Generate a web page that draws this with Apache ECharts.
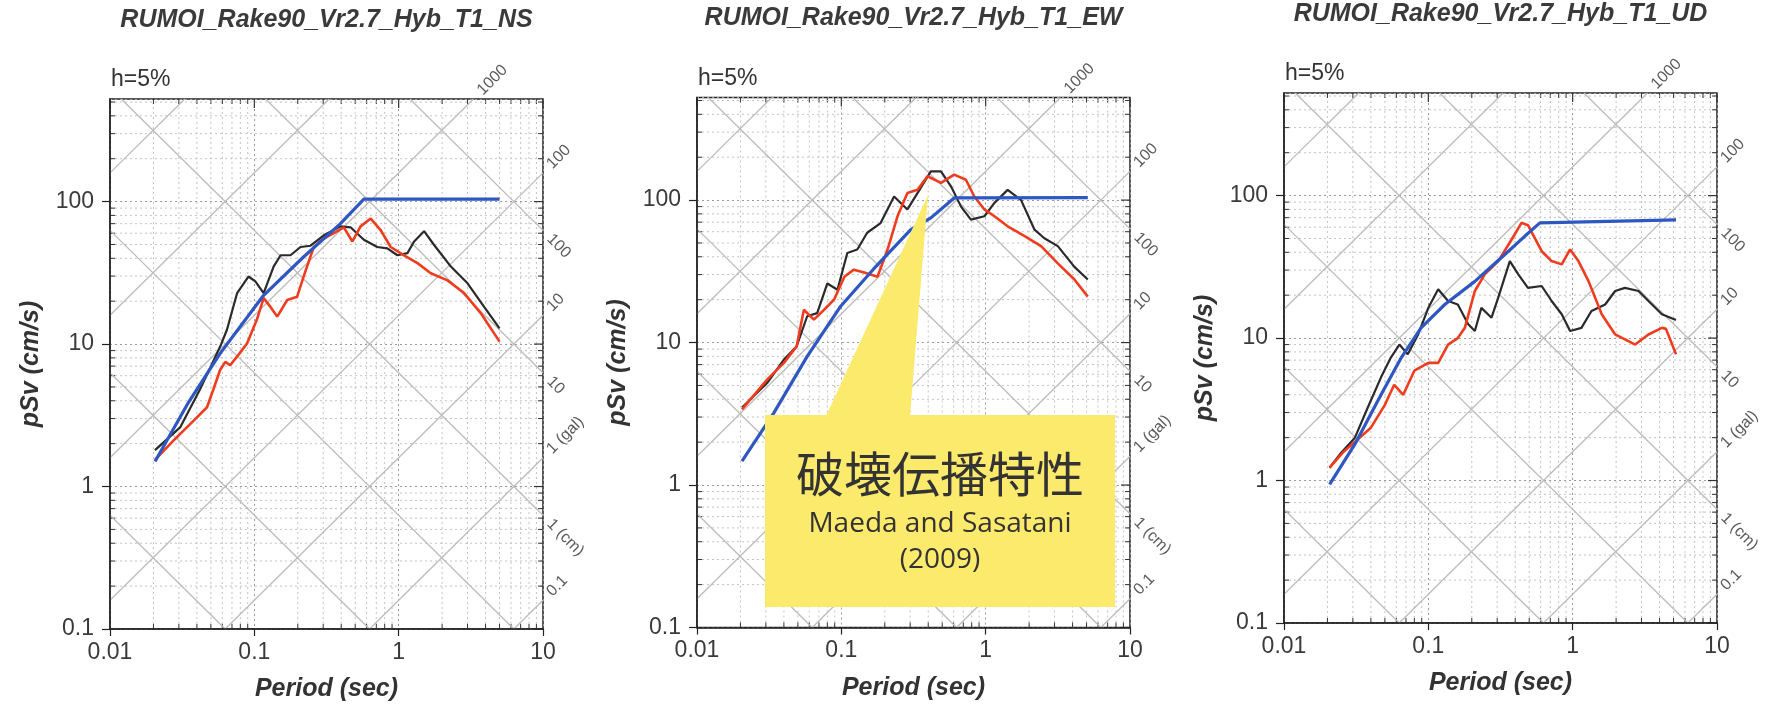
<!DOCTYPE html>
<html><head><meta charset="utf-8">
<script src="https://cdn.jsdelivr.net/npm/echarts@6/dist/echarts.min.js"></script>
<style>html,body{margin:0;padding:0;background:#fff}#c{width:1773px;height:708px}</style>
</head><body><div id="c"></div>
<script>
// ---------- data (period sec, pSv cm/s) ----------
const TITLES = ['RUMOI_Rake90_Vr2.7_Hyb_T1_NS', 'RUMOI_Rake90_Vr2.7_Hyb_T1_EW', 'RUMOI_Rake90_Vr2.7_Hyb_T1_UD'];
const X_TICKS = [0.01, 0.1, 1, 10];
const Y_TICKS = [0.1, 1, 10, 100];
const ACC_LEVELS = [0.1, 1, 10, 100, 1000, 10000, 100000];          // gal
const DISP_LEVELS = [0.001, 0.01, 0.1, 1, 10, 100];                  // cm
const ACC_LABELS = {1000: '1000', 100: '100', 10: '10', 1: '1 (gal)', 0.1: '0.1'};
const DISP_LABELS = {100: '100', 10: '10', 1: '1 (cm)'};

const NS_BLACK = [[0.0205,1.8],[0.0306,2.6],[0.042,4.8],[0.058,9.6],[0.0646,12.6],[0.076,22.8],[0.091,29.8],[0.1016,27.5],[0.116,22.8],[0.136,35],[0.152,42],[0.178,42],[0.209,48],[0.245,49],[0.303,58],[0.395,67],[0.464,66],[0.574,54],[0.711,48],[0.834,47],[0.98,42],[1.15,43.5],[1.28,52.5],[1.5,62],[1.76,49.6],[2.3,35],[3.0,26.7],[3.9,18.3],[5.0,12.9]];
const NS_RED = [[0.0205,1.54],[0.0275,2.1],[0.038,2.9],[0.047,3.6],[0.052,4.8],[0.058,6.6],[0.063,7.5],[0.068,7.1],[0.079,8.6],[0.089,10.1],[0.104,14.8],[0.116,21],[0.129,18.3],[0.144,15.6],[0.169,20.4],[0.198,21.5],[0.22,30],[0.258,48],[0.303,55],[0.355,60],[0.417,66],[0.478,52.5],[0.545,67],[0.64,76],[0.75,63],[0.88,48],[1.09,42],[1.35,37],[1.67,31.4],[2.18,28],[2.84,22.8],[3.7,16.5],[5.0,10.4]];
const NS_BLUE = [[0.0205,1.5],[0.035,3.9],[0.058,8.6],[0.116,22],[0.22,41],[0.395,70],[0.574,104],[5.0,104]];

const EW_BLACK = [[0.0205,3.5],[0.0306,5.2],[0.04,7.6],[0.049,9.4],[0.058,15.3],[0.068,16.1],[0.08,26],[0.094,23.5],[0.11,42.5],[0.129,45],[0.151,59],[0.187,69],[0.232,106],[0.287,86],[0.337,112],[0.417,159],[0.49,159],[0.575,125],[0.675,90],[0.79,73],[0.98,77],[1.15,95.6],[1.42,118],[1.76,100],[2.18,62],[2.55,54],[3.16,47.5],[4.12,34],[5.1,27.7]];
const EW_RED = [[0.0205,3.4],[0.0306,5.5],[0.04,7.2],[0.049,9.4],[0.055,17],[0.0645,14.5],[0.076,17],[0.089,20],[0.105,29],[0.122,32.5],[0.144,31],[0.178,29],[0.209,45],[0.245,77],[0.287,112],[0.337,118],[0.395,147],[0.49,132],[0.605,151],[0.73,139],[0.834,106],[0.98,86],[1.15,77],[1.42,65.5],[1.85,56],[2.42,47.5],[3.16,36],[4.12,27.7],[5.1,21]];
const EW_BLUE = [[0.0205,1.47],[0.034,3.2],[0.058,8.0],[0.099,18],[0.168,33],[0.303,62],[0.417,75],[0.605,103.5],[5.1,104]];

const UD_BLACK = [[0.0207,1.23],[0.0249,1.57],[0.031,2.0],[0.038,3.24],[0.047,5.3],[0.055,7.3],[0.063,9.0],[0.072,7.7],[0.085,10.6],[0.1,16.3],[0.117,22],[0.137,18.2],[0.16,17.2],[0.189,12.5],[0.21,11.2],[0.233,16.3],[0.274,13.9],[0.305,19.2],[0.367,34.7],[0.42,28],[0.49,22.5],[0.61,23.2],[0.715,18.2],[0.84,14.7],[0.96,11.2],[1.15,11.8],[1.35,15.5],[1.68,17.2],[1.97,21.4],[2.3,22.5],[2.86,21.4],[3.35,18.2],[4.15,14.7],[5.2,13.4]];
const UD_RED = [[0.0207,1.23],[0.026,1.6],[0.0325,1.95],[0.04,2.35],[0.05,3.4],[0.058,4.7],[0.067,4.0],[0.08,5.9],[0.1,6.7],[0.117,6.7],[0.137,9.0],[0.16,10],[0.179,11.8],[0.21,21.4],[0.246,28],[0.305,34.7],[0.377,49],[0.442,64.4],[0.49,62],[0.61,40.7],[0.715,34.7],[0.84,32.9],[0.96,41.9],[1.096,34.7],[1.29,25],[1.59,14.7],[1.97,10.6],[2.71,9.0],[3.35,10.6],[4.15,11.8],[4.43,11.6],[5.2,7.7]];
const UD_BLUE = [[0.0207,0.94],[0.031,1.8],[0.047,4.0],[0.065,7.3],[0.089,11.8],[0.13,17.2],[0.21,25],[0.339,38.6],[0.467,52],[0.593,64.4],[5.2,67.5]];

// ---------- layout ----------
const XMIN = 0.01, XMAX = 10, YMIN = 0.1, YMAX = 525;
const GRIDS = [{left:110, top:99}, {left:697, top:97.5}, {left:1284, top:93}];
const GW = 433, GH = 530;
const PANELS = [
  {black: NS_BLACK, red: NS_RED, blue: NS_BLUE},
  {black: EW_BLACK, red: EW_RED, blue: EW_BLUE},
  {black: UD_BLACK, red: UD_RED, blue: UD_BLUE}
];
const FONT = "'Liberation Sans', Arial, sans-serif";
const fmt = v => String(+Number(v).toPrecision(3));

const chart = echarts.init(document.getElementById('c'), null, {renderer: 'canvas'});

const grid = [], xAxis = [], yAxis = [], series = [];
PANELS.forEach((p, i) => {
  grid.push({left: GRIDS[i].left, top: GRIDS[i].top, width: GW, height: GH, containLabel: false,
    outerBoundsMode: 'none', show: true, borderColor: '#222', borderWidth: 1.5, backgroundColor: 'transparent'});
  xAxis.push({type: 'log', logBase: 10, gridIndex: i, min: XMIN, max: XMAX, splitNumber: 3,
    axisLine: {show: true, onZero: false, lineStyle: {color: '#222', width: 1.5}},
    axisTick: {show: true, length: 7, lineStyle: {color: '#222', width: 1.2}},
    axisLabel: {fontSize: 23, color: '#3a3a3a', margin: 12, fontFamily: FONT, formatter: fmt},
    splitLine: {show: true, lineStyle: {color: '#9a9a9a', type: [2, 3], width: 1}},
    name: 'Period (sec)', nameLocation: 'middle', nameGap: 48,
    nameTextStyle: {fontSize: 25, fontWeight: 'bold', fontStyle: 'italic', color: '#333', fontFamily: FONT}});
  yAxis.push({type: 'log', logBase: 10, gridIndex: i, min: YMIN, max: YMAX, splitNumber: 4,
    axisLine: {show: true, onZero: false, lineStyle: {color: '#222', width: 1.5}},
    axisTick: {show: true, length: 8, lineStyle: {color: '#222', width: 1.2}},
    axisLabel: {fontSize: 23, color: '#3a3a3a', margin: 16, fontFamily: FONT, formatter: fmt, showMaxLabel: false},
    splitLine: {show: true, lineStyle: {color: '#9a9a9a', type: [2, 3], width: 1}},
    name: 'pSv (cm/s)', nameLocation: 'middle', nameGap: 66,
    nameTextStyle: {fontSize: 25, fontWeight: 'bold', fontStyle: 'italic', color: '#333', fontFamily: FONT}});
  const common = {type: 'line', xAxisIndex: i, yAxisIndex: i, showSymbol: false, symbol: 'none',
    silent: true, animation: false, clip: true};
  series.push(Object.assign({}, common, {name: 'black' + i, data: p.black, z: 3, lineStyle: {color: '#2a2a2a', width: 2.2}}));
  series.push(Object.assign({}, common, {name: 'red' + i, data: p.red, z: 4, lineStyle: {color: '#f03c1e', width: 2.6}}));
  series.push(Object.assign({}, common, {name: 'blue' + i, data: p.blue, z: 5, lineStyle: {color: '#2f57c2', width: 3.2}}));
});

chart.setOption({backgroundColor: '#fff', animation: false, grid, xAxis, yAxis, series});

// ---------- grid decorations computed through the axes ----------
const L10 = Math.log10, TWO_PI = 2 * Math.PI;
const gfx = [];
function seg(a, b, stroke, width, dash, z) {
  gfx.push({type: 'line', silent: true, z: z || 0,
    shape: {x1: a[0], y1: a[1], x2: b[0], y2: b[1]},
    style: {stroke, lineWidth: width, lineDash: dash || null}});
}
function diagLabel(e, dirY, text) {
  const d = 9;
  gfx.push({type: 'text', silent: true, x: e[0] + d * 0.707, y: e[1] + dirY * d * 0.707,
    rotation: -dirY * Math.PI / 4,
    style: {text, x: 0, y: 0, align: 'left', verticalAlign: 'middle', fill: '#5a5a5a', font: "16px " + FONT}});
}
PANELS.forEach((p, i) => {
  const P = (t, s) => chart.convertToPixel({gridIndex: i}, [t, s]);
  const yTop = L10(YMAX);
  // minor dotted grid + frame ticks
  [0.01, 0.1, 1].forEach(dec => { for (let m = 2; m <= 9; m++) {
    const t = dec * m; const a = P(t, YMIN), b = P(t, YMAX);
    seg(a, b, '#c4c4c4', 1, [2, 3]);
    seg(a, [a[0], a[1] - 5], '#333', 1); seg(b, [b[0], b[1] + 5], '#333', 1);
  }});
  [0.1, 1, 10, 100].forEach(dec => { for (let m = 2; m <= 9; m++) {
    const s = dec * m; if (s > YMAX) break; const a = P(XMIN, s), b = P(XMAX, s);
    seg(a, b, '#c4c4c4', 1, [2, 3]);
    seg(a, [a[0] + 5, a[1]], '#333', 1); seg(b, [b[0] - 5, b[1]], '#333', 1);
  }});
  Y_TICKS.forEach(s => { const b = P(XMAX, s); seg(b, [b[0] - 9, b[1]], '#333', 1.2); });
  X_TICKS.forEach(t => { const b = P(t, YMAX); seg(b, [b[0], b[1] + 9], '#333', 1.2); });
  // diagonal lines: constant acceleration (slope +1) and displacement (slope -1)
  ACC_LEVELS.forEach(A => {
    const c = L10(A) - L10(TWO_PI);
    const x0 = Math.max(-2, -1 - c), x1 = Math.min(1, yTop - c);
    if (x1 > x0) {
      seg(P(10 ** x0, 10 ** (x0 + c)), P(10 ** x1, 10 ** (x1 + c)), '#bcbcbc', 1.3);
      if (ACC_LABELS[A]) diagLabel(P(10 ** x1, 10 ** (x1 + c)), -1, ACC_LABELS[A]);
    }
  });
  DISP_LEVELS.forEach(D => {
    const c = L10(D) + L10(TWO_PI);
    const x0 = Math.max(-2, c - yTop), x1 = Math.min(1, c + 1);
    if (x1 > x0) {
      seg(P(10 ** x0, 10 ** (c - x0)), P(10 ** x1, 10 ** (c - x1)), '#bcbcbc', 1.3);
      if (DISP_LABELS[D] && x1 === 1) diagLabel(P(10 ** x1, 10 ** (c - x1)), 1, DISP_LABELS[D]);
    }
  });
  // title and damping label
  const g = GRIDS[i];
  gfx.push({type: 'text', silent: true, z: 10, x: g.left + GW / 2, y: g.top - 79,
    style: {text: TITLES[i], align: 'center', verticalAlign: 'middle', fill: '#3a3a3a',
      font: "italic bold 25px " + FONT}});
  gfx.push({type: 'text', silent: true, z: 10, x: g.left + 1, y: g.top - 19,
    style: {text: 'h=5%', align: 'left', verticalAlign: 'middle', fill: '#333', font: "23px " + FONT}});
});

// ---------- callout in the middle panel ----------
const YEL = '#fcea6c';
gfx.push({type: 'polygon', silent: true, z: 100, shape: {points: [[826, 416], [910, 416], [928, 195]]}, style: {fill: YEL}});
gfx.push({type: 'rect', silent: true, z: 100, shape: {x: 765, y: 415, width: 350, height: 192}, style: {fill: YEL}});
gfx.push({type: 'text', silent: true, z: 101, x: 940, y: 474,
  style: {text: '破壊伝播特性', align: 'center', verticalAlign: 'middle', fill: '#333', font: "48px 'Noto Sans CJK JP'"}});
gfx.push({type: 'text', silent: true, z: 101, x: 940, y: 524,
  style: {text: 'Maeda and Sasatani', align: 'center', verticalAlign: 'middle', fill: '#333', font: "28px 'Open Sans'"}});
gfx.push({type: 'text', silent: true, z: 101, x: 940, y: 560,
  style: {text: '(2009)', align: 'center', verticalAlign: 'middle', fill: '#333', font: "28px 'Open Sans'"}});

chart.setOption({graphic: {elements: gfx}});
</script></body></html>
